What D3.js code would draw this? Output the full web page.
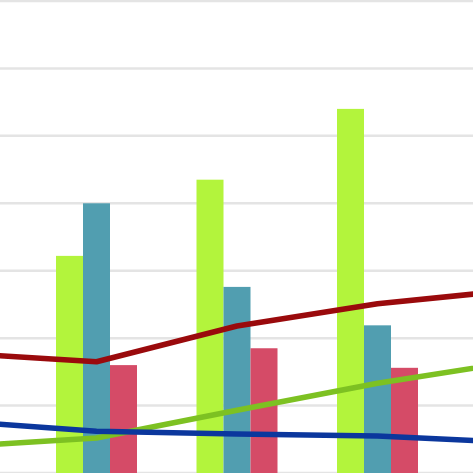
<!DOCTYPE html>
<html>
<head>
<meta charset="utf-8">
<script src="https://cdn.jsdelivr.net/npm/d3@7"></script>
<style>
html,body{margin:0;padding:0;background:#fff;overflow:hidden;}
svg{display:block;}
</style>
</head>
<body>
<script>
// Categories (first and last lie outside the visible crop)
const categories = ["A", "B", "C", "D", "E"];
// Bar series (values only for visible groups)
const barLime = [null, 32.2, 43.5, 54.0, null];
const barTeal = [null, 40.0, 27.6, 21.9, null];
const barPink = [null, 16.0, 18.5, 15.6, null];
// Line series
const lineRed   = [17.8, 16.5, 21.8, 25.1, 27.2];
const lineGreen = [3.9, 5.2, 9.3, 13.3, 16.6];
const lineBlue  = [7.7, 6.2, 5.8, 5.5, 4.5];
const gridTicks = [0, 10, 20, 30, 40, 50, 60, 70];

const W = 473, H = 473;
const svg = d3.select("body").append("svg").attr("width", W).attr("height", H);

const y = d3.scaleLinear().domain([0, 70]).range([473, 1]);
const x = d3.scalePoint().domain(categories).range([-44, 518]);
const sub = d3.scaleBand().domain(["lime", "teal", "pink"]).range([-40.5, 40.5]);

// gridlines
svg.append("g").selectAll("line").data(gridTicks).join("line")
  .attr("x1", 0).attr("x2", W)
  .attr("y1", d => y(d)).attr("y2", d => y(d))
  .attr("stroke", "#e4e4e4").attr("stroke-width", 2.5);

const barSeries = [
  {key: "lime", values: barLime, color: "#b3f43c"},
  {key: "teal", values: barTeal, color: "#519eb0"},
  {key: "pink", values: barPink, color: "#d54b67"}
];
barSeries.forEach(s => {
  svg.append("g").selectAll("rect")
    .data(categories.map((c, i) => ({c, v: s.values[i]})).filter(d => d.v != null))
    .join("rect")
    .attr("x", d => x(d.c) + sub(s.key))
    .attr("width", sub.bandwidth())
    .attr("y", d => y(d.v))
    .attr("height", d => y(0) - y(d.v) + 5)
    .attr("fill", s.color);
});

const lineSeries = [
  {values: lineRed, color: "#9a0a0c"},
  {values: lineGreen, color: "#7dc122"},
  {values: lineBlue, color: "#0b379d"}
];
const line = d3.line().x((d, i) => x(categories[i])).y(d => y(d)).curve(d3.curveLinear);
lineSeries.forEach(s => {
  svg.append("path").datum(s.values)
    .attr("d", line)
    .attr("fill", "none")
    .attr("stroke", s.color)
    .attr("stroke-width", 5.5)
    .attr("stroke-linejoin", "round");
});
</script>
</body>
</html>
